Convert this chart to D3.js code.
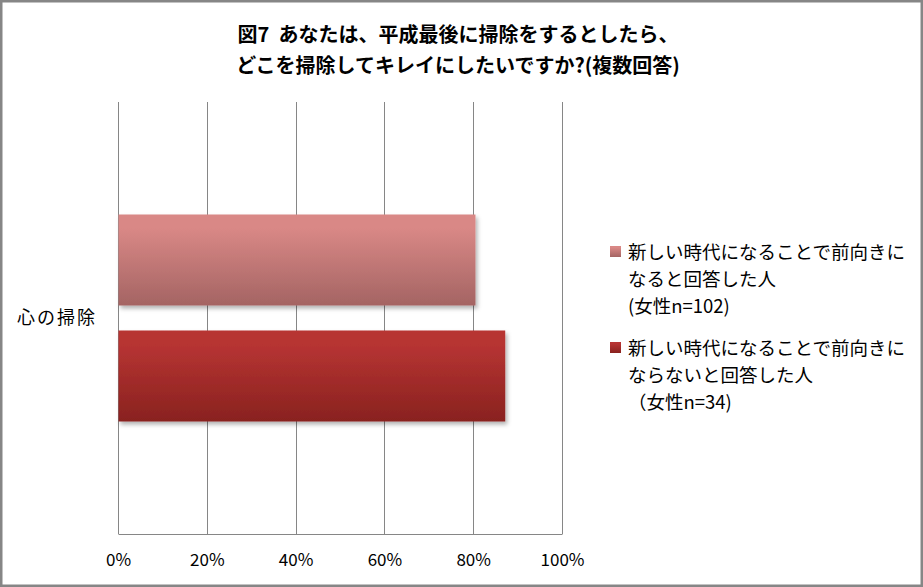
<!DOCTYPE html>
<html>
<head>
<meta charset="utf-8">
<script src="https://cdn.jsdelivr.net/npm/d3@7"></script>
<style>
  body { margin: 0; background: #fff; }
  svg text { font-family: "Noto Sans CJK JP", sans-serif; white-space: pre; }
</style>
</head>
<body>
<div id="chart"></div>
<script>
// chart data
var categories = ["心の掃除"];
var seriesNames = [
    ["新しい時代になることで前向きに", "なると回答した人", "(女性n=102)"],
    ["新しい時代になることで前向きに", "ならないと回答した人", "（女性n=34)"]
];
var seriesValues = [80.4, 87.1];
var tickValues = [0, 20, 40, 60, 80, 100];
var titleLines = ["図7  あなたは、平成最後に掃除をするとしたら、", "どこを掃除してキレイにしたいですか?(複数回答)"];

var svgWidth = 923;
var svgHeight = 587;

var margin = { top: 102, bottom: 53, left: 118, right: 361 };
var width = svgWidth - margin.left - margin.right;
var height = svgHeight - margin.top - margin.bottom;

var svg = d3.select("#chart")
    .append("svg")
    .attr("width", svgWidth)
    .attr("height", svgHeight);

// gradients + shadow
var defs = svg.append("defs");
var gradColors = [["#d98886", "#a46463"], ["#b73433", "#89221f"]];
gradColors.forEach(function(c, i) {
    var g = defs.append("linearGradient")
        .attr("id", "grad" + i)
        .attr("x1", 0).attr("y1", 0).attr("x2", 0).attr("y2", 1);
    g.append("stop").attr("offset", "0%").attr("stop-color", c[0]);
    g.append("stop").attr("offset", "15%").attr("stop-color", c[0]);
    g.append("stop").attr("offset", "100%").attr("stop-color", c[1]);
});
defs.append("filter")
    .attr("id", "shadow")
    .attr("x", "-5%").attr("y", "-10%").attr("width", "115%").attr("height", "130%")
    .append("feDropShadow")
    .attr("dx", 2).attr("dy", 3).attr("stdDeviation", 2)
    .attr("flood-color", "#000").attr("flood-opacity", 0.3);

// outer border
svg.append("rect")
    .attr("x", 1.25).attr("y", 1.25)
    .attr("width", svgWidth - 2.5).attr("height", svgHeight - 2.5)
    .attr("fill", "#fff")
    .attr("stroke", "#868686")
    .attr("stroke-width", 2.5);

// title
svg.append("g").selectAll("text")
    .data(titleLines)
    .enter()
    .append("text")
    .attr("x", 458)
    .attr("y", (d, i) => 42 + i * 31)
    .attr("text-anchor", "middle")
    .attr("font-size", "20px")
    .attr("font-weight", "bold")
    .text(d => d);

var chartGroup = svg.append("g")
    .attr("transform", `translate(${margin.left}, ${margin.top})`);

var xScale = d3.scaleLinear()
    .domain([0, 100])
    .range([0, width]);

var yScale = d3.scaleBand()
    .domain(categories)
    .range([0, height]);

var seriesScale = d3.scaleBand()
    .domain(d3.range(seriesValues.length))
    .range([0, yScale.bandwidth()])
    .paddingInner(0.2155)
    .paddingOuter(0.97);

// gridlines
chartGroup.append("g")
    .selectAll("line")
    .data(tickValues)
    .enter()
    .append("line")
    .attr("x1", d => Math.round(xScale(d)) + 0.5)
    .attr("x2", d => Math.round(xScale(d)) + 0.5)
    .attr("y1", 0)
    .attr("y2", height)
    .attr("stroke", "#868686")
    .attr("stroke-width", 1);

// x axis
var xAxis = d3.axisBottom(xScale)
    .tickValues(tickValues)
    .tickSize(0)
    .tickPadding(20)
    .tickFormat(d => d + "%");

var xg = chartGroup.append("g")
    .attr("transform", `translate(0, ${height})`)
    .call(xAxis);
xg.select(".domain")
    .attr("stroke", "#868686")
    .attr("d", `M0.5,0.5H${width + 0.5}`);
xg.selectAll("text")
    .attr("font-family", "Lato, 'Open Sans', sans-serif")
    .attr("font-size", "17px")
    .attr("fill", "#000");

// y axis
var yAxis = d3.axisLeft(yScale).tickSize(0).tickPadding(21);
var yg = chartGroup.append("g").call(yAxis);
yg.select(".domain")
    .attr("stroke", "#868686")
    .attr("d", `M0.5,0V${height}`);
yg.selectAll("text")
    .attr("font-family", "'Noto Sans CJK JP', sans-serif")
    .attr("font-size", "18px")
    .attr("letter-spacing", "2px")
    .attr("fill", "#000");

// bars
chartGroup.append("g")
    .selectAll("rect")
    .data(seriesValues)
    .enter()
    .append("rect")
    .attr("x", 0.5)
    .attr("y", (d, i) => yScale(categories[0]) + seriesScale(i))
    .attr("width", d => xScale(d))
    .attr("height", seriesScale.bandwidth())
    .attr("fill", (d, i) => `url(#grad${i})`)
    .attr("filter", "url(#shadow)");

// legend
var legend = svg.append("g")
    .attr("transform", "translate(610, 244)");

var items = legend.selectAll("g")
    .data(seriesNames)
    .enter()
    .append("g")
    .attr("transform", (d, i) => `translate(0, ${i * 96})`);

items.append("rect")
    .attr("x", 0).attr("y", 2)
    .attr("width", 11).attr("height", 11)
    .attr("fill", (d, i) => `url(#grad${i})`);

items.selectAll("text")
    .data(d => d)
    .enter()
    .append("text")
    .attr("x", 18)
    .attr("y", (d, i) => 15 + i * 27)
    .attr("font-size", "18.5px")
    .attr("fill", "#000")
    .text(d => d);
</script>
</body>
</html>
